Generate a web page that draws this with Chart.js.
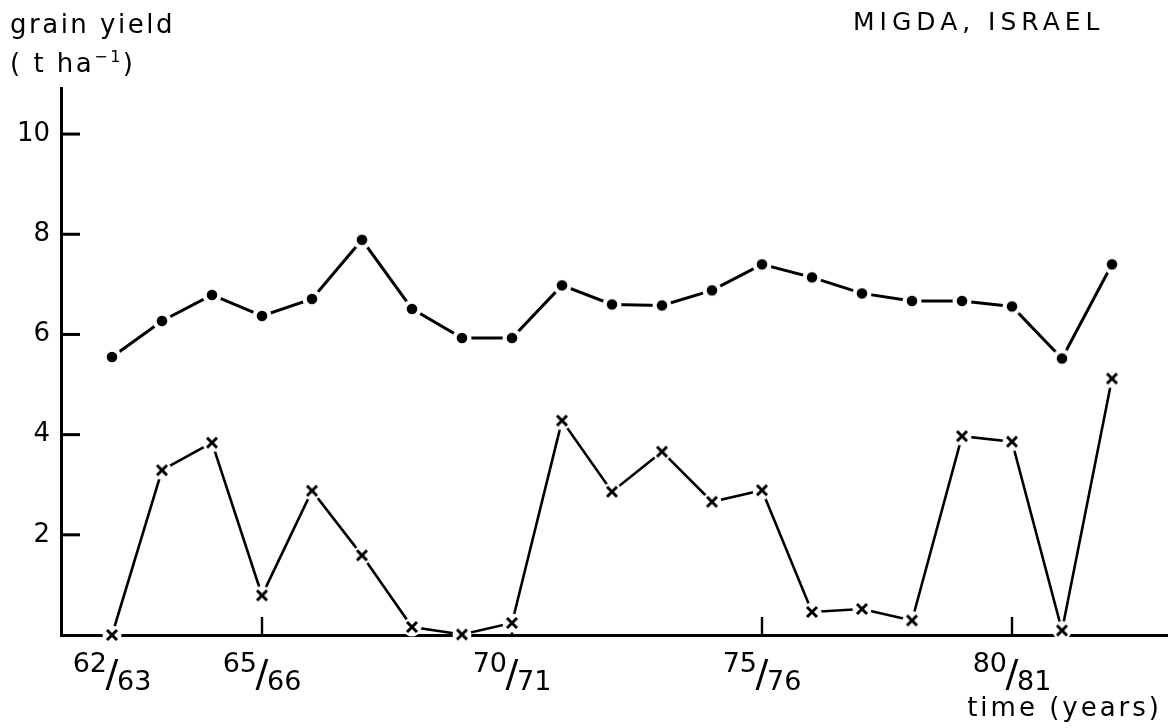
<!DOCTYPE html>
<html>
<head>
<meta charset="utf-8">
<script src="https://cdn.jsdelivr.net/npm/chart.js@4"></script>
<style>
  body { margin: 0; background: #fff; }
</style>
</head>
<body>
<canvas id="yieldChart" width="1168" height="728"></canvas>
<script>
// seasons along the time axis
const seasons = ['62/63', '63/64', '64/65', '65/66', '66/67', '67/68', '68/69', '69/70', '70/71', '71/72',
  '72/73', '73/74', '74/75', '75/76', '76/77', '77/78', '78/79', '79/80', '80/81', '81/82', '82/83'];

// grain yield, t/ha (dots = upper series, crosses = lower series)
const upperYield = [5.55, 6.27, 6.79, 6.37, 6.71, 7.89, 6.51, 5.93, 5.93, 6.98,
  6.60, 6.58, 6.88, 7.40, 7.14, 6.82, 6.67, 6.67, 6.56, 5.52, 7.40];
const lowerYield = [0, 3.29, 3.84, 0.79, 2.88, 1.59, 0.16, 0.01, 0.24, 4.28,
  2.86, 3.66, 2.66, 2.89, 0.46, 0.52, 0.29, 3.97, 3.86, 0.09, 5.12];

const yTicks = [2, 4, 6, 8, 10];
const xTickLabels = ['62/63', '65/66', '70/71', '75/76', '80/81'];
const xTickMarks = ['65/66', '70/71', '75/76', '80/81'];

const FONT = '"DejaVu Sans", sans-serif';

function startYear(s) {
    return parseInt(s.split('/')[0], 10);
}

// markers with a white halo so the line stops short of them
function makeMarker(kind) {
    const c = document.createElement('canvas');
    c.width = 22; c.height = 22;
    const g = c.getContext('2d');
    g.fillStyle = '#fff';
    g.beginPath(); g.arc(11, 11, 9.5, 0, Math.PI * 2); g.fill();
    g.fillStyle = '#000'; g.strokeStyle = '#000';
    if (kind === 'dot') {
        g.beginPath(); g.arc(11, 11, 5.3, 0, Math.PI * 2); g.fill();
    } else {
        g.lineWidth = 3;
        g.beginPath();
        g.moveTo(6, 6); g.lineTo(16, 16);
        g.moveTo(16, 6); g.lineTo(6, 16);
        g.stroke();
    }
    return c;
}

const paperText = {
    id: 'paperText',
    beforeDatasetsDraw(chart) {
        const { ctx, scales: { x, y } } = chart;
        ctx.save();
        ctx.strokeStyle = '#000';
        ctx.lineWidth = 3;
        yTicks.forEach(v => {
            const py = y.getPixelForValue(v);
            ctx.beginPath(); ctx.moveTo(x.left, py); ctx.lineTo(x.left + 19, py); ctx.stroke();
        });
        ctx.lineWidth = 2.4;
        xTickMarks.forEach(s => {
            const px = x.getPixelForValue(startYear(s));
            ctx.beginPath(); ctx.moveTo(px, y.bottom); ctx.lineTo(px, y.bottom - 18); ctx.stroke();
        });
        ctx.restore();
    },
    afterDraw(chart) {
        const { ctx, scales: { x } } = chart;
        ctx.save();
        ctx.fillStyle = '#000';
        ctx.textBaseline = 'alphabetic';

        // fraction style season labels
        xTickLabels.forEach(s => {
            const [a, b] = s.split('/');
            const px = x.getPixelForValue(startYear(s));
            ctx.font = '27px ' + FONT;
            ctx.textAlign = 'right';
            ctx.fillText(a, px - 5, 672);
            ctx.textAlign = 'left';
            ctx.fillText(b, px + 5, 690);
            ctx.font = '38px ' + FONT;
            ctx.textAlign = 'center';
            ctx.fillText('/', px, 686);
        });

        ctx.textAlign = 'left';
        ctx.letterSpacing = '2.5px';
        ctx.font = '26px ' + FONT;
        ctx.fillText('grain yield', 10, 33);

        let cx = 10;
        ctx.fillText('( t ha', cx, 72);
        cx += ctx.measureText('( t ha').width;
        ctx.font = '16px ' + FONT;
        ctx.fillText('\u22121', cx, 62);
        cx += ctx.measureText('\u22121').width;
        ctx.font = '26px ' + FONT;
        ctx.fillText(')', cx, 72);

        ctx.letterSpacing = '5px';
        ctx.font = '25px ' + FONT;
        ctx.fillText('MIGDA, ISRAEL', 853, 30);

        ctx.letterSpacing = '3px';
        ctx.font = '26px ' + FONT;
        ctx.textAlign = 'right';
        ctx.fillText('time (years)', 1162, 716);
        ctx.restore();
    }
};

const chart = document.getElementById('yieldChart');

new Chart(chart, {
    type: 'line',
    data: {
        datasets: [{
            label: 'upper',
            data: seasons.map((s, i) => ({ x: startYear(s), y: upperYield[i] })),
            borderColor: '#000',
            borderWidth: 3,
            pointStyle: makeMarker('dot'),
            clip: false
        }, {
            label: 'lower',
            data: seasons.map((s, i) => ({ x: startYear(s), y: lowerYield[i] })),
            borderColor: '#000',
            borderWidth: 2.6,
            pointStyle: makeMarker('cross'),
            clip: false
        }]
    },
    options: {
        responsive: false,
        animation: false,
        devicePixelRatio: 1,
        layout: { autoPadding: false, padding: { top: 88, right: 0, left: 0, bottom: 0 } },
        plugins: { legend: { display: false }, tooltip: { enabled: false } },
        scales: {
            x: {
                type: 'linear',
                min: 60.98,
                max: 83.12,
                ticks: { display: false },
                grid: { display: false, drawTicks: false },
                border: { color: '#000', width: 3 },
                afterFit: s => { s.height = 93; }
            },
            y: {
                min: 0,
                max: 10.92,
                afterBuildTicks: s => { s.ticks = yTicks.map(v => ({ value: v })); },
                ticks: { color: '#000', padding: 11, font: { family: FONT, size: 26 } },
                grid: { display: false, drawTicks: false },
                border: { color: '#000', width: 3 },
                afterFit: s => { s.width = 61; }
            }
        }
    },
    plugins: [paperText]
});
</script>
</body>
</html>
